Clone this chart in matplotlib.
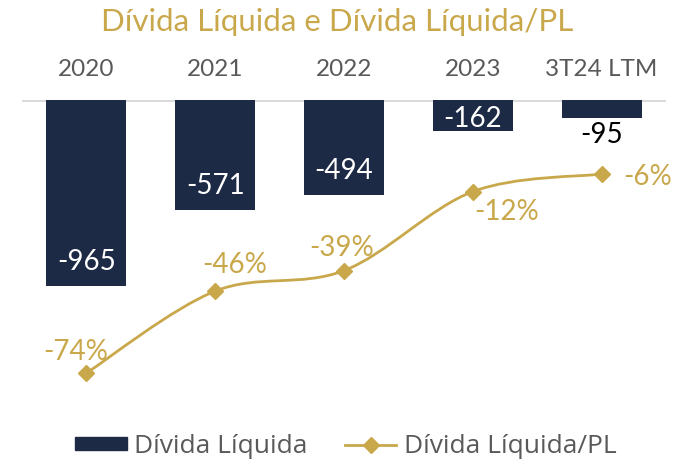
import matplotlib.pyplot as plt
from matplotlib.path import Path
from matplotlib.patches import PathPatch, Patch
from matplotlib.lines import Line2D

categories = ["2020", "2021", "2022", "2023", "3T24 LTM"]
divida_liquida = [-965, -571, -494, -162, -95]
divida_pl = [-74, -46, -39, -12, -6]

NAVY = "#1C2A45"
GOLD = "#C9A84C"
GRAY = "#595959"
FONT = "Lato"


def smooth_path(xs, ys, t=0.5):
    # curva de Bezier (Catmull-Rom) passando pelos pontos
    verts = [(xs[0], ys[0])]
    codes = [Path.MOVETO]
    n = len(xs)
    for i in range(n - 1):
        x0, y0 = (xs[i - 1], ys[i - 1]) if i > 0 else (xs[i], ys[i])
        x1, y1 = xs[i], ys[i]
        x2, y2 = xs[i + 1], ys[i + 1]
        x3, y3 = (xs[i + 2], ys[i + 2]) if i + 2 < n else (x2, y2)
        c1 = (x1 + (x2 - x0) * t / 3, y1 + (y2 - y0) * t / 3)
        c2 = (x2 - (x3 - x1) * t / 3, y2 - (y3 - y1) * t / 3)
        verts += [c1, c2, (x2, y2)]
        codes += [Path.CURVE4] * 3
    return Path(verts, codes)


fig = plt.figure(figsize=(6.74, 4.6), dpi=100)
W, H = 674, 460
ax = fig.add_axes([22 / W, 1 - 420 / H, (666 - 22) / W, (420 - 101) / H])
x = list(range(len(categories)))

ax.bar(x, divida_liquida, width=0.62, color=NAVY, zorder=2)
ax.set_xlim(-0.5, 4.5)
ax.set_ylim(-1655, 0)
ax.axhline(0, color="#D9D9D9", lw=2, zorder=1)
ax.axis("off")

label_dy = [18, 18, 18, 9.5, -11]
for i, v in enumerate(divida_liquida):
    ax.annotate(f"{v}", (i, v), xytext=(0, label_dy[i]), textcoords="offset points",
                ha="center", va="center", color="white" if i < 4 else "black",
                fontsize=20, family=FONT)

for i, c in enumerate(categories):
    fig.text((22 + (i + 0.5) * 128.8) / W, 1 - 69 / H, c, ha="center", va="center",
             color=GRAY, fontsize=17.5, family=FONT)

ax2 = ax.twinx()
ax2.set_ylim(-89.7, 19.3)
ax2.axis("off")
ax2.add_patch(PathPatch(smooth_path(x, divida_pl), fill=False, edgecolor=GOLD, lw=2))
ax2.plot(x, divida_pl, ls="none", marker="D", ms=8, color=GOLD)

offsets = [(-8, 16), (14, 19.5), (-1.5, 17), (24.5, -14), (33, -1.5)]
for i, v in enumerate(divida_pl):
    ax2.annotate(f"{v}%", (i, v), xytext=offsets[i], textcoords="offset points",
                 ha="center", va="center", color=GOLD, fontsize=20, family=FONT)

fig.text(0.5, 1 - 22 / H, "Dívida Líquida e Dívida Líquida/PL", ha="center", va="center",
         color=GOLD, fontsize=22.5, family=FONT)

handles = [Patch(color=NAVY), Line2D([0], [0], color=GOLD, lw=2, marker="D", ms=8)]
fig.legend(handles, ["Dívida Líquida", "Dívida Líquida/PL"], loc="center",
           bbox_to_anchor=(346 / W, 1 - 447 / H), ncol=2, frameon=False,
           prop={"family": "Open Sans", "size": 19}, labelcolor=GRAY,
           handlelength=1.95, handleheight=0.38, handletextpad=0.3, columnspacing=1.4)

fig.savefig("out.png", dpi=100)
